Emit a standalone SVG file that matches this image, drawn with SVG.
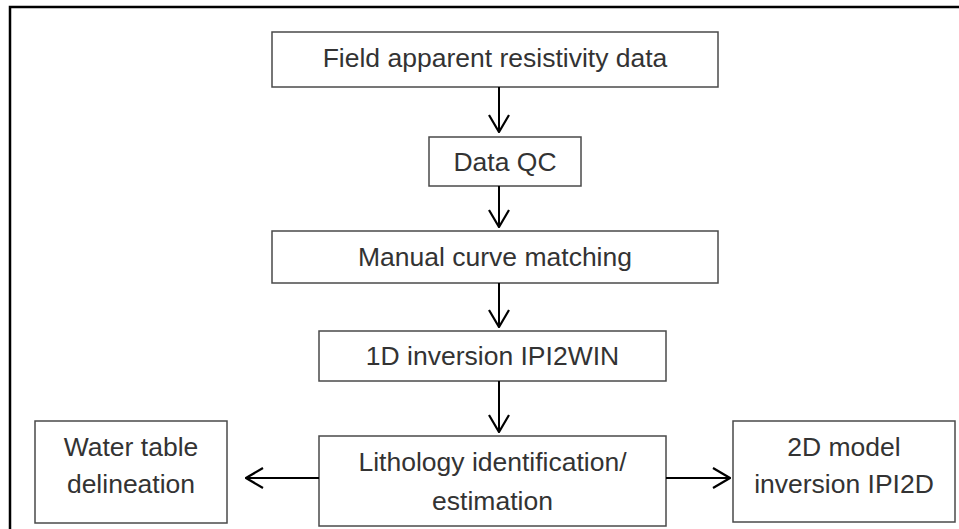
<svg xmlns="http://www.w3.org/2000/svg" width="959" height="529" viewBox="0 0 959 529">
  <style>
    .box { fill: #ffffff; stroke: #4a4a4a; stroke-width: 1.5; }
    .lbl { font-family: "Liberation Sans", Arial, sans-serif; font-size: 26.5px; fill: #333333; text-anchor: middle; }
    .edge { fill: none; stroke: #000000; stroke-width: 2; }
    .frame { fill: none; stroke: #000000; stroke-width: 2.5; }
  </style>
  <defs>
    <marker id="open" viewBox="0 0 20 22" refX="19" refY="11" markerWidth="20" markerHeight="22" markerUnits="userSpaceOnUse" orient="auto">
      <path d="M2,1 L19,11 L2,21" fill="none" stroke="#000000" stroke-width="2.2"/>
    </marker>
  </defs>

  <rect width="959" height="529" fill="#ffffff"/>
  <path class="frame" d="M10,529 V7 H959"/>

  <g id="field-data">
    <rect class="box" x="272" y="32" width="446" height="55"/>
    <text class="lbl" x="495" y="67">Field apparent resistivity data</text>
  </g>
  <g id="data-qc">
    <rect class="box" x="429" y="137" width="152" height="49"/>
    <text class="lbl" x="505" y="171">Data QC</text>
  </g>
  <g id="curve-matching">
    <rect class="box" x="272" y="231" width="446" height="52"/>
    <text class="lbl" x="495" y="266">Manual curve matching</text>
  </g>
  <g id="inversion-1d">
    <rect class="box" x="319" y="331" width="347" height="50"/>
    <text class="lbl" x="492.5" y="365">1D inversion IPI2WIN</text>
  </g>
  <g id="lithology">
    <rect class="box" x="319" y="436" width="347" height="90"/>
    <text class="lbl" x="492.5" y="471">Lithology identification/</text>
    <text class="lbl" x="492.5" y="510">estimation</text>
  </g>
  <g id="water-table">
    <rect class="box" x="35" y="421" width="192" height="102"/>
    <text class="lbl" x="131" y="456">Water table</text>
    <text class="lbl" x="131" y="493">delineation</text>
  </g>
  <g id="model-2d">
    <rect class="box" x="733" y="421" width="222" height="101"/>
    <text class="lbl" x="844" y="456">2D model</text>
    <text class="lbl" x="844" y="493">inversion IPI2D</text>
  </g>

  <g id="connectors">
    <line class="edge" x1="499" y1="87" x2="499" y2="132" marker-end="url(#open)"/>
    <line class="edge" x1="499" y1="186" x2="499" y2="227" marker-end="url(#open)"/>
    <line class="edge" x1="499" y1="283" x2="499" y2="327" marker-end="url(#open)"/>
    <line class="edge" x1="499" y1="381" x2="499" y2="432" marker-end="url(#open)"/>
    <line class="edge" x1="319" y1="478" x2="246" y2="478" marker-end="url(#open)"/>
    <line class="edge" x1="666" y1="478" x2="730" y2="478" marker-end="url(#open)"/>
  </g>
</svg>
